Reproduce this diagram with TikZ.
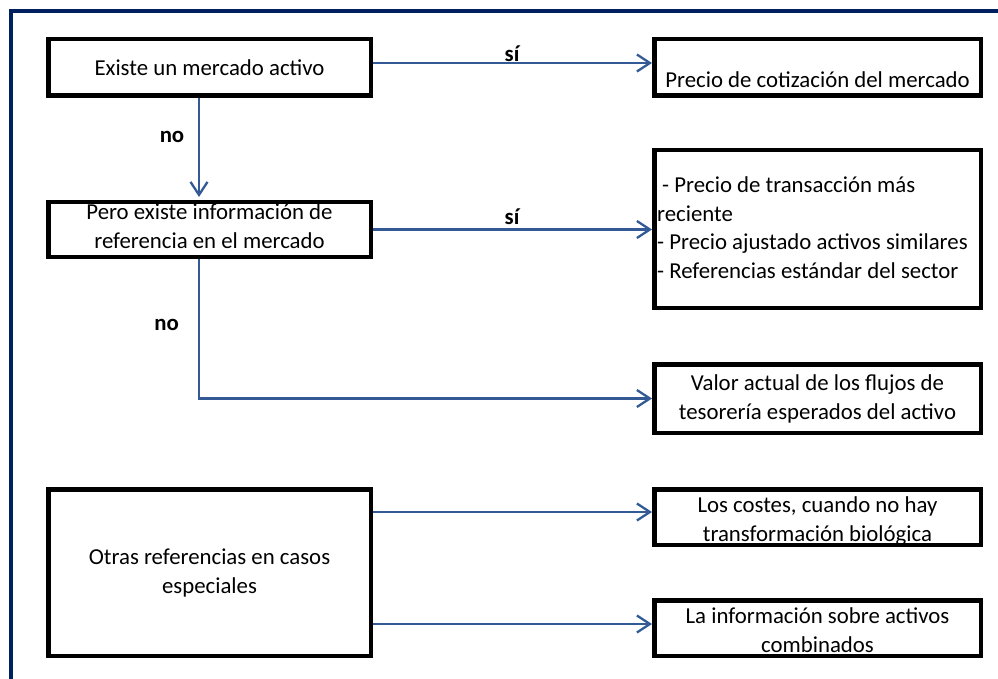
\documentclass[tikz,border=0pt]{standalone}
\usepackage{fontspec}
\setmainfont{Carlito}
\usetikzlibrary{arrows.meta}
\definecolor{navy}{RGB}{0,32,96}
\definecolor{arrblue}{RGB}{52,90,150}
\begin{document}
\begin{tikzpicture}[x=1pt,y=-1pt,
  box/.style={draw=black, line width=4.5pt, inner sep=0pt},
  txt/.style={font=\fontsize{22.8}{28.5}\selectfont, align=center, inner sep=0pt, anchor=base},
  lab/.style={font=\fontsize{22.8}{28.5}\selectfont\bfseries, inner sep=0pt, anchor=base},
  arr/.style={draw=arrblue, line width=2.3pt, -{Straight Barb[length=13pt,width=17pt]}}
]
\useasboundingbox (0,0) rectangle (998,679);
\draw[navy, line width=3.5pt] (11,679) -- (11,11) -- (998,11);

% texts (base anchor = baseline of the last line)
\node[txt] (t1) at (209.5,76) {Existe un mercado activo};
\node[txt] (t2) at (817.5,88) {Precio de cotización del mercado};
\node[txt] (t3) at (209.5,248) {Pero existe información de\\referencia en el mercado};
\node[txt, anchor=base west, align=left] (t4) at (657,278) {\hspace*{5pt}- Precio de transacción más\\reciente\\- Precio ajustado activos similares\\- Referencias estándar del sector};
\node[txt] (t5) at (817.5,419) {Valor actual de los flujos de\\tesorería esperados del activo};
\node[txt] (t6) at (209.5,593) {Otras referencias en casos\\especiales};
\node[txt] (t7) at (817.5,541) {Los costes, cuando no hay\\transformación biológica};
\node[txt] (t8) at (817.5,652) {La información sobre activos\\combinados};

% boxes
\node[box, minimum width=322.5pt, minimum height=56.5pt] (b1) at (209.5,67.5) {};
\node[box, minimum width=326.5pt, minimum height=56.5pt] (b2) at (817.5,67.5) {};
\node[box, minimum width=322.5pt, minimum height=54.5pt] (b3) at (209.5,229.5) {};
\node[box, minimum width=326.5pt, minimum height=157.5pt] (b4) at (817.5,229) {};
\node[box, minimum width=326.5pt, minimum height=68.5pt] (b5) at (817.5,398.5) {};
\node[box, minimum width=322.5pt, minimum height=166.5pt] (b6) at (209.5,572.5) {};
\node[box, minimum width=326.5pt, minimum height=55.5pt] (b7) at (817.5,517) {};
\node[box, minimum width=326.5pt, minimum height=55.5pt] (b8) at (817.5,628) {};

% labels
\node[lab] (l1) at (512,62) {sí};
\node[lab] (l2) at (512,224) {sí};
\node[lab] (l3) at (172,143) {no};
\node[lab] (l4) at (166.5,330) {no};

% connectors
\coordinate (y1) at (0,512);
\coordinate (y2) at (0,624);
\draw[arr] ([yshift=4.5pt]b1.east) -- ([yshift=4.5pt]b2.west);
\draw[arr] ([xshift=-10.5pt]b1.south) -- ([xshift=-10.5pt,yshift=3pt]b1.south |- b3.north);
\draw[arr] (b3.east) -- (b3.east -| b4.west);
\draw[arr] ([xshift=-10.5pt]b3.south) |- (b5.west);
\draw[arr] (b6.east |- y1) -- (b7.west |- y1);
\draw[arr] (b6.east |- y2) -- (b8.west |- y2);
\end{tikzpicture}
\end{document}
